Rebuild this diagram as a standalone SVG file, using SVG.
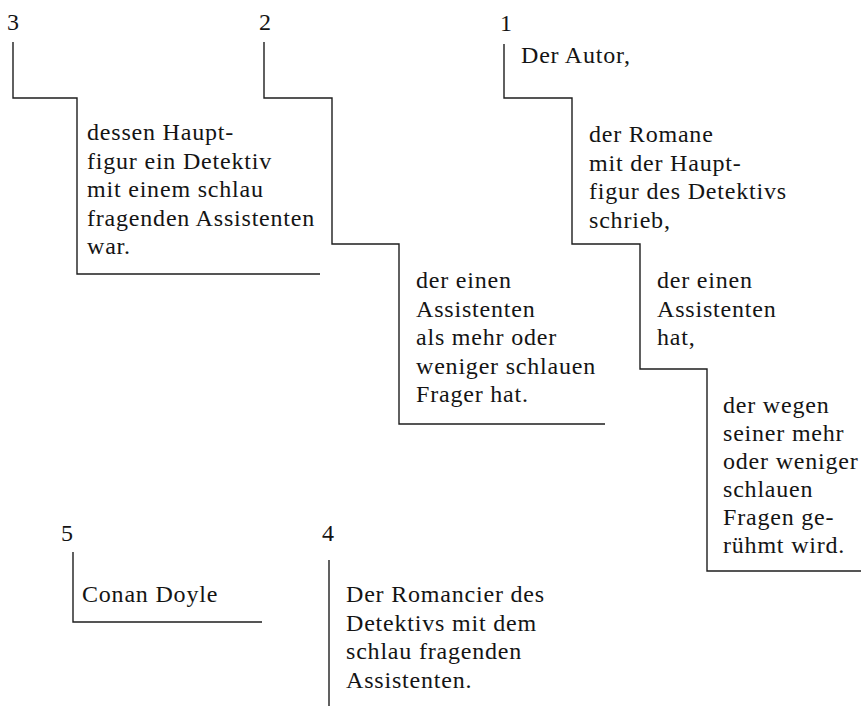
<svg xmlns="http://www.w3.org/2000/svg" width="861" height="706" viewBox="0 0 861 706">
<style>
.t{font-family:"Liberation Serif","Times New Roman",serif;font-size:24px;fill:#141414;letter-spacing:0.8px}
.num{font-family:"Liberation Serif","Times New Roman",serif;font-size:24px;fill:#141414;text-anchor:middle}
.ln{fill:none;stroke:#1e1e1e;stroke-width:1.4}
</style>
<rect width="861" height="706" fill="#ffffff"/>
<g id="connectors">
<polyline class="ln" points="13,42 13,98 77,98 77,274 320,274"/>
<polyline class="ln" points="264,42 264,98 332,98 332,244 399,244 399,424 605,424"/>
<polyline class="ln" points="504,44 504,98 572,98 572,244 640,244 640,369 707,369 707,571 861,571"/>
<polyline class="ln" points="73,552 73,622 262,622"/>
<line class="ln" x1="329" y1="560" x2="329" y2="706"/>
</g>
<g id="label-3"><text class="num" x="13" y="30">3</text></g>
<g id="label-2"><text class="num" x="265" y="30">2</text></g>
<g id="label-1"><text class="num" x="506" y="31">1</text></g>
<g id="label-5"><text class="num" x="67" y="541">5</text></g>
<g id="label-4"><text class="num" x="328" y="541">4</text></g>
<g id="node-autor"><text class="t" x="521" y="63">Der Autor,</text></g>
<g id="node-romane">
<text class="t" x="589" y="142">der Romane</text>
<text class="t" x="589" y="170.5">mit der Haupt-</text>
<text class="t" x="589" y="199">figur des Detektivs</text>
<text class="t" x="589" y="227.5">schrieb,</text>
</g>
<g id="node-assistent1">
<text class="t" x="657" y="288">der einen</text>
<text class="t" x="657" y="316.5">Assistenten</text>
<text class="t" x="657" y="345">hat,</text>
</g>
<g id="node-ruhm">
<text class="t" x="723" y="413">der wegen</text>
<text class="t" x="723" y="441">seiner mehr</text>
<text class="t" x="723" y="469">oder weniger</text>
<text class="t" x="723" y="497">schlauen</text>
<text class="t" x="723" y="525">Fragen ge-</text>
<text class="t" x="723" y="553">rühmt wird.</text>
</g>
<g id="node-hauptfigur">
<text class="t" x="87" y="140">dessen Haupt-</text>
<text class="t" x="87" y="168.5">figur ein Detektiv</text>
<text class="t" x="87" y="197">mit einem schlau</text>
<text class="t" x="87" y="225.5">fragenden Assistenten</text>
<text class="t" x="87" y="254">war.</text>
</g>
<g id="node-frager">
<text class="t" x="416" y="288">der einen</text>
<text class="t" x="416" y="316.5">Assistenten</text>
<text class="t" x="416" y="345">als mehr oder</text>
<text class="t" x="416" y="373.5">weniger schlauen</text>
<text class="t" x="416" y="402">Frager hat.</text>
</g>
<g id="node-doyle"><text class="t" x="82" y="602">Conan Doyle</text></g>
<g id="node-romancier">
<text class="t" x="346" y="602">Der Romancier des</text>
<text class="t" x="346" y="630.5">Detektivs mit dem</text>
<text class="t" x="346" y="659">schlau fragenden</text>
<text class="t" x="346" y="687.5">Assistenten.</text>
</g>
</svg>
